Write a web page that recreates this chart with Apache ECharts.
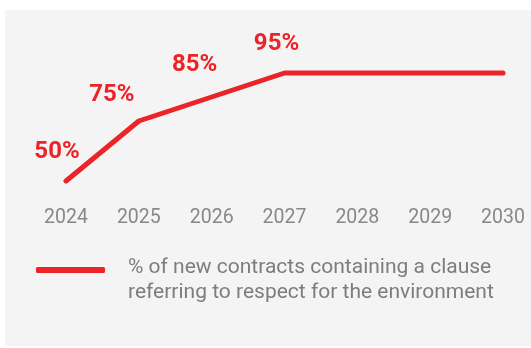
<!DOCTYPE html>
<html>
<head>
<meta charset="utf-8">
<script src="https://cdn.jsdelivr.net/npm/echarts@6/dist/echarts.min.js"></script>
<style>
  html, body { margin: 0; padding: 0; background: #ffffff; }
  #chart { width: 531px; height: 348px; }
</style>
</head>
<body>
<div id="chart"></div>
<script>
// Years on the horizontal axis
const years = ['2024', '2025', '2026', '2027', '2028', '2029', '2030'];
// Share of new contracts with an environmental clause (%)
const shareValues = [50, 75, 85, 95, 95, 95, 95];
// Years whose value is printed above the line
const labelledYears = ['2024', '2025', '2026', '2027'];
const seriesName = '% of new contracts containing a clause\nreferring to respect for the environment';

const RED = '#ec2327';
// Label nudges relative to each point (x, y)
const labelNudge = [[-9, -29], [-27, -26], [-17, -32], [-8, -29]];

const data = shareValues.map((v, i) => {
  const idx = labelledYears.indexOf(years[i]);
  return {
    value: v,
    label: idx >= 0
      ? { show: true, position: 'inside', offset: labelNudge[idx] }
      : { show: false }
  };
});

const chart = echarts.init(document.getElementById('chart'), null, { renderer: 'canvas' });
chart.setOption({
  animation: false,
  backgroundColor: '#ffffff',
  graphic: [{
    type: 'rect',
    left: 5, top: 10,
    shape: { width: 526, height: 336 },
    style: { fill: '#f4f4f4' },
    z: -10
  }],
  grid: { left: 66, right: 28, top: 61, bottom: 143 },
  xAxis: {
    type: 'category',
    data: years,
    boundaryGap: false,
    axisLine: { show: false },
    axisTick: { show: false },
    axisLabel: {
      margin: 3,
      color: '#888888',
      fontFamily: 'Roboto',
      fontSize: 19.5
    }
  },
  yAxis: {
    type: 'value',
    min: 40, max: 100,
    show: false,
    splitLine: { show: false }
  },
  legend: {
    left: 36, top: 234.5,
    padding: 0,
    itemWidth: 69, itemHeight: 6,
    icon: 'roundRect',
    data: [{ name: seriesName, itemStyle: { color: RED } }],
    // a thin spacer line above the text keeps the icon level with the first line
    formatter: name => '{s| }\n' + name.split('\n').map(l => '{t|' + l + '}').join('\n'),
    textStyle: {
      color: '#7d7d7d',
      fontFamily: 'Roboto',
      fontSize: 21,
      rich: {
        s: { fontSize: 4, lineHeight: 21, height: 21, padding: [0, 0, 0, 18] },
        t: {
          color: '#7d7d7d',
          fontFamily: 'Roboto',
          fontSize: 21,
          lineHeight: 25,
          padding: [0, 0, 0, 18]
        }
      }
    }
  },
  series: [{
    name: seriesName,
    type: 'line',
    data: data,
    symbol: 'circle',
    symbolSize: 1,
    showSymbol: true,
    itemStyle: { color: RED },
    lineStyle: { color: RED, width: 5, cap: 'round', join: 'round' },
    label: {
      color: RED,
      fontFamily: 'Roboto',
      fontWeight: 'bold',
      fontSize: 24,
      formatter: p => p.value + '%'
    }
  }]
});
</script>
</body>
</html>
